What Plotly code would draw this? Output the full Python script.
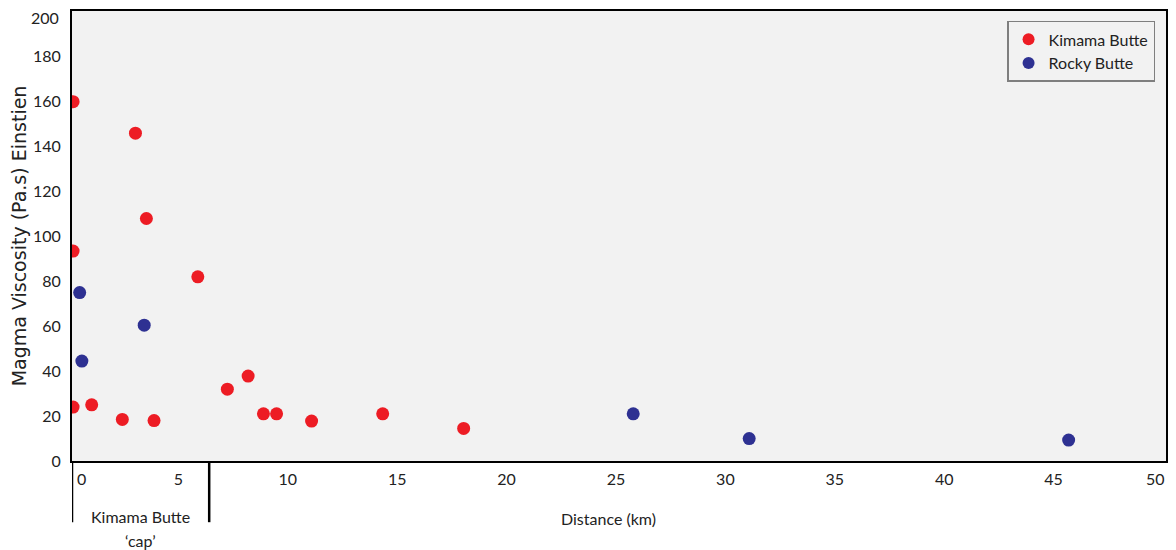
import plotly.graph_objects as go

# Kimama Butte (red)
kimama_x = [0.05, 2.9, 3.4, 0.05, 5.75, 0.05, 0.9, 2.3, 3.75, 7.1, 8.05, 8.75, 9.35, 10.95, 14.2, 17.9]
kimama_y = [160, 146, 108, 93.5, 82, 24, 25, 18.5, 18, 32, 37.8, 21, 21, 17.8, 21, 14.5]

# Rocky Butte (blue)
rocky_x = [0.35, 3.3, 0.45, 25.65, 30.95, 45.55]
rocky_y = [75, 60.5, 44.5, 21, 10, 9.3]

x_ticks = [5, 10, 15, 20, 25, 30, 35, 40, 45, 50]
y_ticks = [0, 20, 40, 60, 80, 100, 120, 140, 160, 180]
y_top_tick = 200
cap_boundary = 6.27

FONT = "Lato, 'Open Sans', sans-serif"
TXT = "#222"

# last x label is drawn as an annotation so it is not clipped at the page edge
x_ticktext = [str(v) for v in x_ticks[:-1]] + [""]

fig = go.Figure()
fig.add_trace(go.Scatter(x=kimama_x, y=kimama_y, mode="markers", name="Kimama Butte",
                         marker=dict(color="#ed1c24", size=13)))
fig.add_trace(go.Scatter(x=rocky_x, y=rocky_y, mode="markers", name="Rocky Butte",
                         marker=dict(color="#2e3192", size=13)))

# page body has an 8px margin, so the figure is sized to fit inside the window
fig.update_layout(
    width=1168, height=542,
    margin=dict(l=64, r=10, t=3, b=89, autoexpand=False),
    paper_bgcolor="white",
    plot_bgcolor="#f2f2f2",
    font=dict(family=FONT, size=16, color=TXT),
    showlegend=True,
    legend=dict(x=0.990, y=0.978, xanchor="right", yanchor="top",
                bgcolor="#f2f2f2", bordercolor="#7f7f7f", borderwidth=1.5,
                font=dict(size=16, color=TXT), itemsizing="constant"),
    xaxis=dict(range=[0, 50], tickvals=x_ticks, ticktext=x_ticktext,
               showgrid=False, zeroline=False,
               showline=True, linecolor="black", linewidth=2, mirror=True,
               ticks="", ticklabelstandoff=3, ticklabelshift=-3, automargin=False,
               tickfont=dict(size=16, color=TXT)),
    yaxis=dict(range=[0, 200.4], tickvals=y_ticks, showgrid=False, zeroline=False,
               showline=True, linecolor="black", linewidth=2, mirror=True,
               ticks="", ticklabelstandoff=6, automargin=False,
               tickfont=dict(size=16, color=TXT),
               title=dict(text="Magma Viscosity (Pa.s) Einstien",
                          font=dict(family="DejaVu Sans, sans-serif", size=19, color=TXT),
                          standoff=1)),
)

# top "200" tick label, nudged down as in the original
fig.add_annotation(x=0, y=y_top_tick, xref="paper", yref="y", text=str(y_top_tick),
                   showarrow=False, xanchor="right", yanchor="middle", xshift=-11, yshift=-6,
                   font=dict(size=16, color=TXT))

# last x tick label
fig.add_annotation(x=x_ticks[-1], y=0, xref="x", yref="paper", text=str(x_ticks[-1]),
                   showarrow=False, xanchor="right", yanchor="middle", xshift=1, yshift=-17,
                   font=dict(size=16, color=TXT))

# "0" tick label placed to the right of the bracket line
fig.add_annotation(x=0.45, y=0, xref="x", yref="paper", text="0", showarrow=False,
                   xanchor="center", yanchor="middle", yshift=-17,
                   font=dict(size=16, color=TXT))

# Bracket lines below the axis
for xv in [0, cap_boundary]:
    fig.add_shape(type="line", xref="x", yref="paper", x0=xv, x1=xv, y0=0, y1=-0.136,
                  line=dict(color="black", width=2.5))

fig.add_annotation(x=cap_boundary / 2, y=-0.124, xref="x", yref="paper", text="Kimama Butte",
                   showarrow=False, xanchor="center", yanchor="middle",
                   font=dict(size=16, color=TXT))
fig.add_annotation(x=cap_boundary / 2, y=-0.176, xref="x", yref="paper", text="\u2018cap\u2019",
                   showarrow=False, xanchor="center", yanchor="middle",
                   font=dict(size=16, color=TXT))
fig.add_annotation(x=24.5, y=-0.127, xref="x", yref="paper", text="Distance (km)",
                   showarrow=False, xanchor="center", yanchor="middle",
                   font=dict(size=16, color=TXT))

fig.write_html("out.html")
